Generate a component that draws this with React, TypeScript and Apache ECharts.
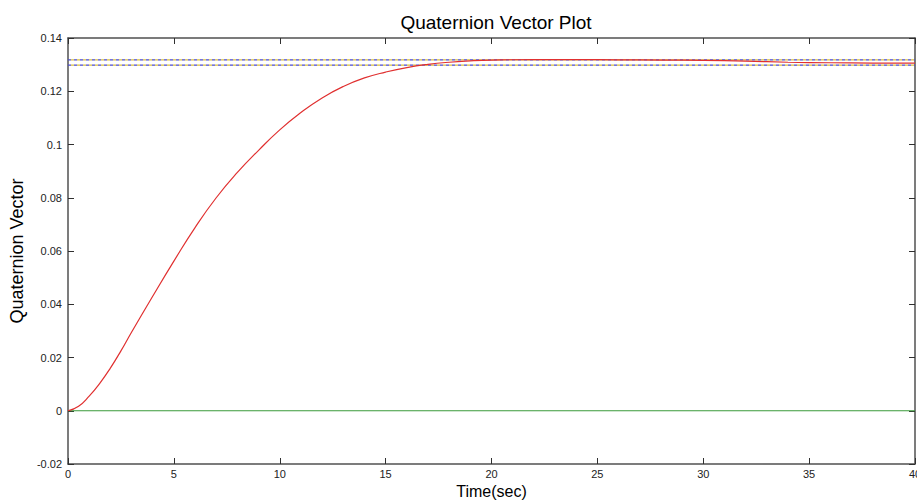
import React, { useEffect, useRef } from "react";
import * as echarts from "echarts";

const time = [0, 0.5, 1, 1.5, 2, 2.5, 3, 4, 5, 6, 7, 8, 9, 10, 11, 12, 13, 14, 15, 16, 17, 18, 19, 20, 22, 24, 26, 28, 30, 32, 34, 36, 38, 40];
const qRed = [0, 0.0017, 0.0055, 0.0103, 0.016, 0.0225, 0.0295, 0.043, 0.0562, 0.0688, 0.08, 0.0895, 0.0978, 0.1055, 0.112, 0.1175, 0.1218, 0.125, 0.1272, 0.1289, 0.1301, 0.1309, 0.1314, 0.1317, 0.1319, 0.1319, 0.1318, 0.1317, 0.1316, 0.1313, 0.1309, 0.1307, 0.1306, 0.1306];
const qGreen = [0, 0];
const greenTime = [0, 40];
const refUpper = 0.1318;
const refLower = 0.1298;

export default function App() {
  const ref = useRef<HTMLDivElement>(null);
  useEffect(() => {
    const chart = echarts.init(ref.current!, null, { renderer: "svg" });
    const font = "Liberation Sans, Arial, sans-serif";
    const axisLine = { show: true, onZero: false, lineStyle: { color: "#505050", width: 1.5 } };
    const tick = { show: true, inside: true, length: 6, lineStyle: { color: "#303030" } };
    const refLine = (v: number, color: string, dash: number[], offset: number) => ({
      type: "line",
      data: [[0, v], [40, v]],
      symbol: "none",
      lineStyle: { color, width: 1.2, type: dash, dashOffset: offset },
      z: 3,
    });
    chart.setOption({
      animation: false,
      backgroundColor: "#ffffff",
      title: {
        text: "Quaternion Vector Plot",
        left: 491,
        textAlign: "center",
        top: 8,
        textStyle: { fontFamily: font, fontSize: 19, fontWeight: "normal", color: "#000" },
      },
      grid: { left: 68, right: 2, top: 38, bottom: 36, outerBoundsMode: "none", containLabel: false },
      xAxis: [
        {
          type: "value",
          min: 0,
          max: 40,
          interval: 5,
          name: "Time(sec)",
          nameLocation: "middle",
          nameGap: 16,
          nameTextStyle: { fontFamily: font, fontSize: 16, color: "#000" },
          axisLine,
          axisTick: tick,
          axisLabel: { fontFamily: font, fontSize: 11, color: "#222", margin: 4, showMaxLabel: true },
          splitLine: { show: false },
        },
        {
          type: "value",
          position: "top",
          min: 0,
          max: 40,
          interval: 5,
          axisLine,
          axisTick: tick,
          axisLabel: { show: false },
          splitLine: { show: false },
        },
      ],
      yAxis: [
        {
          type: "value",
          min: -0.02,
          max: 0.14,
          interval: 0.02,
          name: "Quaternion Vector",
          nameLocation: "middle",
          nameGap: 40,
          nameTextStyle: { fontFamily: font, fontSize: 18, color: "#000" },
          axisLine,
          axisTick: tick,
          axisLabel: {
            fontFamily: font,
            fontSize: 11,
            color: "#222",
            margin: 6,
            formatter: (v: number) => String(parseFloat(v.toFixed(2))),
          },
          splitLine: { show: false },
        },
        {
          type: "value",
          position: "right",
          min: -0.02,
          max: 0.14,
          interval: 0.02,
          axisLine,
          axisTick: tick,
          axisLabel: { show: false },
          splitLine: { show: false },
        },
      ],
      series: [
        {
          type: "line",
          data: greenTime.map((t, i) => [t, qGreen[i]]),
          symbol: "none",
          lineStyle: { color: "#3a9a3a", width: 1.2 },
          z: 2,
        },
        refLine(refUpper, "#4a4ad0", [3, 3], 0),
        refLine(refUpper, "#d8c040", [3, 3], 3),
        refLine(refLower, "#4a4ad0", [3, 3], 0),
        refLine(refLower, "#d8c040", [3, 3], 3),
        {
          type: "line",
          data: time.map((t, i) => [t, qRed[i]]),
          symbol: "none",
          smooth: 0.5,
          lineStyle: { color: "#e03030", width: 1.2 },
          z: 4,
        },
      ],
    });
    return () => chart.dispose();
  }, []);
  return <div ref={ref} style={{ width: 917, height: 500, position: "absolute", left: 0, top: 0 }} />;
}
